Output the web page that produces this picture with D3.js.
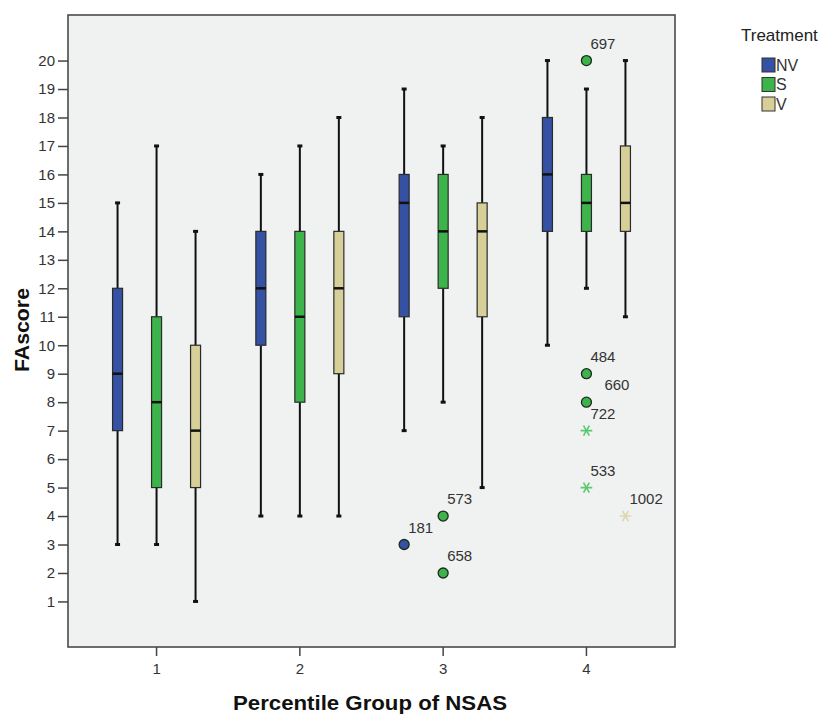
<!DOCTYPE html>
<html>
<head>
<meta charset="utf-8">
<script src="https://cdn.jsdelivr.net/npm/d3@7"></script>
<style>
  body { margin: 0; background: #fff; }
  svg { display: block; font-family: Arial, "Liberation Sans", sans-serif; }
</style>
</head>
<body>
<div id="chart"></div>
<script>
// Percentile groups (x) and treatments (boxes inside each group)
const groups = ["1", "2", "3", "4"];
const treatments = ["NV", "S", "V"];
const yTicks = d3.range(1, 21);

// Box statistics, one row per group, columns NV / S / V
const whiskerLow  = [[3, 3, 1], [4, 4, 4], [7, 8, 5], [10, 12, 11]];
const q1          = [[7, 5, 5], [10, 8, 9], [11, 12, 11], [14, 14, 14]];
const median      = [[9, 8, 7], [12, 11, 12], [15, 14, 14], [16, 15, 15]];
const q3          = [[12, 11, 10], [14, 14, 14], [16, 16, 15], [18, 16, 17]];
const whiskerHigh = [[15, 17, 14], [16, 17, 18], [19, 17, 18], [20, 19, 20]];

// Outliers (circles) and extremes (stars) with case numbers
const outlierCase      = ["181", "573", "658", "697", "484", "660"];
const outlierGroup     = ["3", "3", "3", "4", "4", "4"];
const outlierTreatment = ["NV", "S", "S", "S", "S", "S"];
const outlierValue     = [3, 4, 2, 20, 9, 8];

const extremeCase      = ["722", "533", "1002"];
const extremeGroup     = ["4", "4", "4"];
const extremeTreatment = ["S", "S", "V"];
const extremeValue     = [7, 5, 4];

const color = d3.scaleOrdinal()
  .domain(treatments)
  .range(["#3451a3", "#3cb44b", "#d7cf98"]);
const starColor = d3.scaleOrdinal()
  .domain(treatments)
  .range(["#6f86c8", "#5cc96e", "#ddd6b0"]);

const width = 827, height = 715;
const plot = { left: 68, right: 675, top: 15, bottom: 647 };

const svg = d3.select("#chart").append("svg")
  .attr("width", width)
  .attr("height", height);

const x = d3.scaleBand()
  .domain(groups)
  .range([plot.left, plot.right])
  .paddingInner(0)
  .paddingOuter(0.118);

const xSub = d3.scaleBand()
  .domain(treatments)
  .range([-58.5, 58.5]);

const y = d3.scaleLinear()
  .domain([-0.6, 21.6])
  .range([plot.bottom, plot.top]);

const cx = (g, t) => x(g) + x.bandwidth() / 2 + xSub(t) + xSub.bandwidth() / 2;

// plot background
svg.append("rect")
  .attr("x", plot.left)
  .attr("y", plot.top)
  .attr("width", plot.right - plot.left)
  .attr("height", plot.bottom - plot.top)
  .attr("fill", "#f0f1f1");

// boxes
const boxes = [];
groups.forEach((g, i) => {
  treatments.forEach((t, j) => {
    boxes.push({
      g, t,
      lo: whiskerLow[i][j], q1: q1[i][j], med: median[i][j],
      q3: q3[i][j], hi: whiskerHigh[i][j]
    });
  });
});

const boxW = 10;
const bg = svg.append("g")
  .selectAll("g")
  .data(boxes)
  .enter()
  .append("g");

// whiskers
bg.append("line")
  .attr("x1", d => cx(d.g, d.t)).attr("x2", d => cx(d.g, d.t))
  .attr("y1", d => y(d.hi)).attr("y2", d => y(d.q3))
  .attr("stroke", "#111").attr("stroke-width", 2);
bg.append("line")
  .attr("x1", d => cx(d.g, d.t)).attr("x2", d => cx(d.g, d.t))
  .attr("y1", d => y(d.q1)).attr("y2", d => y(d.lo))
  .attr("stroke", "#111").attr("stroke-width", 2);

// whisker caps
["hi", "lo"].forEach(k => {
  bg.append("line")
    .attr("x1", d => cx(d.g, d.t) - 2.5).attr("x2", d => cx(d.g, d.t) + 2.5)
    .attr("y1", d => y(d[k])).attr("y2", d => y(d[k]))
    .attr("stroke", "#111").attr("stroke-width", 3);
});

// box
bg.append("rect")
  .attr("x", d => cx(d.g, d.t) - boxW / 2)
  .attr("y", d => y(d.q3))
  .attr("width", boxW)
  .attr("height", d => y(d.q1) - y(d.q3))
  .attr("fill", d => color(d.t))
  .attr("stroke", "#2a2a2a")
  .attr("stroke-width", 1.2);

// median
bg.append("line")
  .attr("x1", d => cx(d.g, d.t) - boxW / 2).attr("x2", d => cx(d.g, d.t) + boxW / 2)
  .attr("y1", d => y(d.med)).attr("y2", d => y(d.med))
  .attr("stroke", "#111").attr("stroke-width", 2.5);

// outliers
const outliers = outlierCase.map((c, i) => ({
  c, g: outlierGroup[i], t: outlierTreatment[i], v: outlierValue[i]
}));
const extremes = extremeCase.map((c, i) => ({
  c, g: extremeGroup[i], t: extremeTreatment[i], v: extremeValue[i]
}));

svg.append("g")
  .selectAll("circle")
  .data(outliers)
  .enter()
  .append("circle")
  .attr("cx", d => cx(d.g, d.t))
  .attr("cy", d => y(d.v))
  .attr("r", 5)
  .attr("fill", d => color(d.t))
  .attr("stroke", "#1d2a1d")
  .attr("stroke-width", 1.3);

const star = d3.symbol().type(d3.symbolAsterisk).size(95);
svg.append("g")
  .selectAll("path")
  .data(extremes)
  .enter()
  .append("path")
  .attr("transform", d => `translate(${cx(d.g, d.t)},${y(d.v)}) rotate(90)`)
  .attr("d", star)
  .attr("fill", "none")
  .attr("stroke", d => starColor(d.t))
  .attr("stroke-width", 1.6);

// case labels; 660 pushed right so it clears its neighbour
const labelShift = { "660": 14 };
svg.append("g")
  .selectAll("text")
  .data(outliers.concat(extremes))
  .enter()
  .append("text")
  .attr("x", d => cx(d.g, d.t) + 4 + (labelShift[d.c] || 0))
  .attr("y", d => y(d.v) - 17)
  .attr("dy", "0.35em")
  .attr("font-size", "15px")
  .attr("fill", "#333")
  .text(d => d.c);

// frame
svg.append("rect")
  .attr("x", plot.left)
  .attr("y", plot.top)
  .attr("width", plot.right - plot.left)
  .attr("height", plot.bottom - plot.top)
  .attr("fill", "none")
  .attr("stroke", "#4a4a4a")
  .attr("stroke-width", 1.6);

// Y axis
const yAxis = svg.append("g")
  .attr("transform", `translate(${plot.left},0)`)
  .call(d3.axisLeft(y).tickValues(yTicks).tickSize(10).tickPadding(3));
yAxis.select(".domain").remove();
yAxis.selectAll(".tick line").attr("stroke", "#444").attr("stroke-width", 1.5);
yAxis.selectAll(".tick text")
  .attr("font-size", "15px")
  .attr("font-family", "Arial, 'Liberation Sans', sans-serif")
  .attr("fill", "#333");

// X axis
const xAxis = svg.append("g")
  .attr("transform", `translate(0,${plot.bottom})`)
  .call(d3.axisBottom(x).tickSize(9).tickPadding(7));
xAxis.select(".domain").remove();
xAxis.selectAll(".tick line").attr("stroke", "#444").attr("stroke-width", 1.5);
xAxis.selectAll(".tick text")
  .attr("font-size", "15px")
  .attr("font-family", "Arial, 'Liberation Sans', sans-serif")
  .attr("fill", "#333");

// axis titles
svg.append("text")
  .attr("x", 370)
  .attr("y", 703)
  .attr("dy", "0.35em")
  .attr("text-anchor", "middle")
  .attr("font-size", "20px")
  .attr("font-weight", "bold")
  .attr("fill", "#111")
  .attr("textLength", 274)
  .attr("lengthAdjust", "spacingAndGlyphs")
  .text("Percentile Group of NSAS");

svg.append("text")
  .attr("transform", "translate(22,330) rotate(-90)")
  .attr("dy", "0.35em")
  .attr("text-anchor", "middle")
  .attr("font-size", "20px")
  .attr("font-weight", "bold")
  .attr("fill", "#111")
  .attr("textLength", 84)
  .attr("lengthAdjust", "spacingAndGlyphs")
  .text("FAscore");

// legend
const legend = svg.append("g");
legend.append("text")
  .attr("x", 741)
  .attr("y", 35)
  .attr("dy", "0.35em")
  .attr("font-size", "17px")
  .attr("fill", "#222")
  .text("Treatment");

const item = legend.selectAll("g.item")
  .data(treatments)
  .enter()
  .append("g")
  .attr("class", "item")
  .attr("transform", (d, i) => `translate(762,${58 + i * 19.5})`);
item.append("rect")
  .attr("width", 13)
  .attr("height", 14)
  .attr("fill", d => color(d))
  .attr("stroke", "#333")
  .attr("stroke-width", 1);
item.append("text")
  .attr("x", 14)
  .attr("y", 7)
  .attr("dy", "0.35em")
  .attr("font-size", "16px")
  .attr("fill", "#333")
  .text(d => d);
</script>
</body>
</html>
